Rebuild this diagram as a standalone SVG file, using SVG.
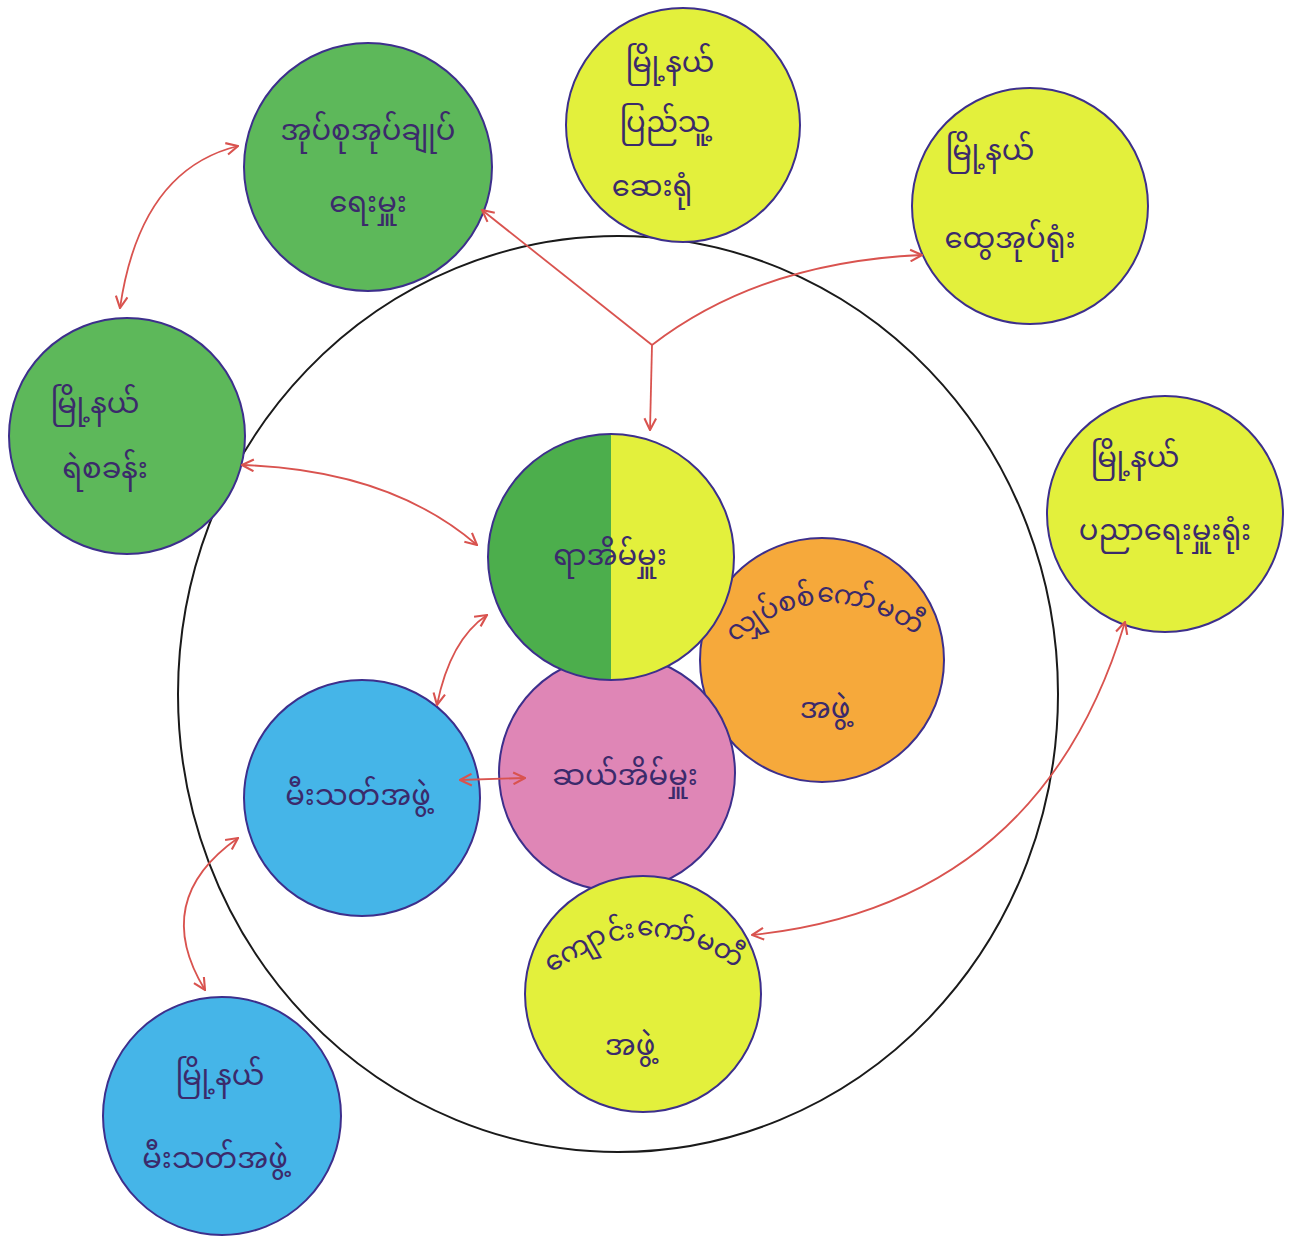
<svg xmlns="http://www.w3.org/2000/svg" width="1302" height="1240" viewBox="0 0 1302 1240">
<style>
.node{stroke:#3d2f8c;stroke-width:2}
.green{fill:#5db85a}
.yellow{fill:#e3f03c}
.orange{fill:#f6a93b}
.pink{fill:#df86b6}
.blue{fill:#45b5e8}
.lbl{font-family:"Noto Sans Myanmar","Padauk","Myanmar Text","Noto Sans","DejaVu Sans",sans-serif;font-size:29px;fill:#3b2a6b;text-anchor:middle}
.arc{font-size:27px}
.con{fill:none;stroke:#d9534f;stroke-width:1.8}
</style>
<defs>
<marker id="arr" viewBox="0 0 12 12" refX="11" refY="6" markerWidth="14" markerHeight="14" markerUnits="userSpaceOnUse" orient="auto-start-reverse">
<path d="M1,1 L11,6 L1,11" fill="none" stroke="#d9534f" stroke-width="1.8"/>
</marker>
<linearGradient id="half" x1="0" y1="0" x2="1" y2="0">
<stop offset="0" stop-color="#4cae4c"/>
<stop offset="0.5" stop-color="#4cae4c"/>
<stop offset="0.5" stop-color="#e3f03c"/>
<stop offset="1" stop-color="#e3f03c"/>
</linearGradient>
<path id="arcOrange" d="M 705,672 Q 822,540 948,662"/>
<path id="arcSchool" d="M 525,1000 Q 643,878 765,992"/>
</defs>
<rect width="1302" height="1240" fill="#ffffff"/>
<ellipse cx="618" cy="694" rx="440" ry="458" fill="none" stroke="#1a1a1a" stroke-width="2"/>

<g id="node-admin">
<circle class="node green" cx="368" cy="167" r="124"/>
<text class="lbl" x="368" y="140">အုပ်စုအုပ်ချုပ်</text>
<text class="lbl" x="368" y="212">ရေးမှူး</text>
</g>
<g id="node-hospital">
<circle class="node yellow" cx="683" cy="125" r="117"/>
<text class="lbl" x="670" y="72">မြို့နယ်</text>
<text class="lbl" x="665" y="132">ပြည်သူ့</text>
<text class="lbl" x="652" y="196">ဆေးရုံ</text>
</g>
<g id="node-gad">
<circle class="node yellow" cx="1030" cy="206" r="118"/>
<text class="lbl" x="990" y="160">မြို့နယ်</text>
<text class="lbl" x="1010" y="248">ထွေအုပ်ရုံး</text>
</g>
<g id="node-police">
<circle class="node green" cx="127" cy="436" r="118"/>
<text class="lbl" x="95" y="413">မြို့နယ်</text>
<text class="lbl" x="105" y="478">ရဲစခန်း</text>
</g>
<g id="node-education">
<circle class="node yellow" cx="1165" cy="514" r="118"/>
<text class="lbl" x="1135" y="467">မြို့နယ်</text>
<text class="lbl" x="1165" y="540">ပညာရေးမှူးရုံး</text>
</g>
<g id="node-orange">
<circle class="node orange" cx="822" cy="660" r="122"/>
<text class="lbl arc"><textPath href="#arcOrange" startOffset="50%">လျှပ်စစ်ကော်မတီ</textPath></text>
<text class="lbl" x="825" y="718">အဖွဲ့</text>
</g>
<g id="node-tenhouse">
<circle class="node pink" cx="617" cy="773" r="118"/>
<text class="lbl" x="625" y="785">ဆယ်အိမ်မှူး</text>
</g>
<g id="node-hundredhouse">
<circle class="node" fill="url(#half)" cx="611" cy="557" r="123"/>
<text class="lbl" x="610" y="565">ရာအိမ်မှူး</text>
</g>
<g id="node-fire">
<circle class="node blue" cx="362" cy="798" r="118"/>
<text class="lbl" x="358" y="805">မီးသတ်အဖွဲ့</text>
</g>
<g id="node-school">
<circle class="node yellow" cx="643" cy="994" r="118"/>
<text class="lbl arc"><textPath href="#arcSchool" startOffset="50%">ကျောင်းကော်မတီ</textPath></text>
<text class="lbl" x="630" y="1055">အဖွဲ့</text>
</g>
<g id="node-townfire">
<circle class="node blue" cx="222" cy="1116" r="119"/>
<text class="lbl" x="220" y="1085">မြို့နယ်</text>
<text class="lbl" x="215" y="1168">မီးသတ်အဖွဲ့</text>
</g>

<g id="connectors">
<path class="con" d="M 238,146 Q 140,170 120,308" marker-start="url(#arr)" marker-end="url(#arr)"/>
<path class="con" d="M 652,345 L 482,210" marker-end="url(#arr)"/>
<path class="con" d="M 652,345 Q 760,262 922,255" marker-end="url(#arr)"/>
<path class="con" d="M 652,345 L 650,430" marker-end="url(#arr)"/>
<path class="con" d="M 242,465 Q 390,470 477,545" marker-start="url(#arr)" marker-end="url(#arr)"/>
<path class="con" d="M 487,615 Q 450,640 437,705" marker-start="url(#arr)" marker-end="url(#arr)"/>
<path class="con" d="M 460,780 L 525,778" marker-start="url(#arr)" marker-end="url(#arr)"/>
<path class="con" d="M 238,838 Q 150,900 205,990" marker-start="url(#arr)" marker-end="url(#arr)"/>
<path class="con" d="M 752,935 Q 1040,905 1125,622" marker-start="url(#arr)" marker-end="url(#arr)"/>
</g>
</svg>
